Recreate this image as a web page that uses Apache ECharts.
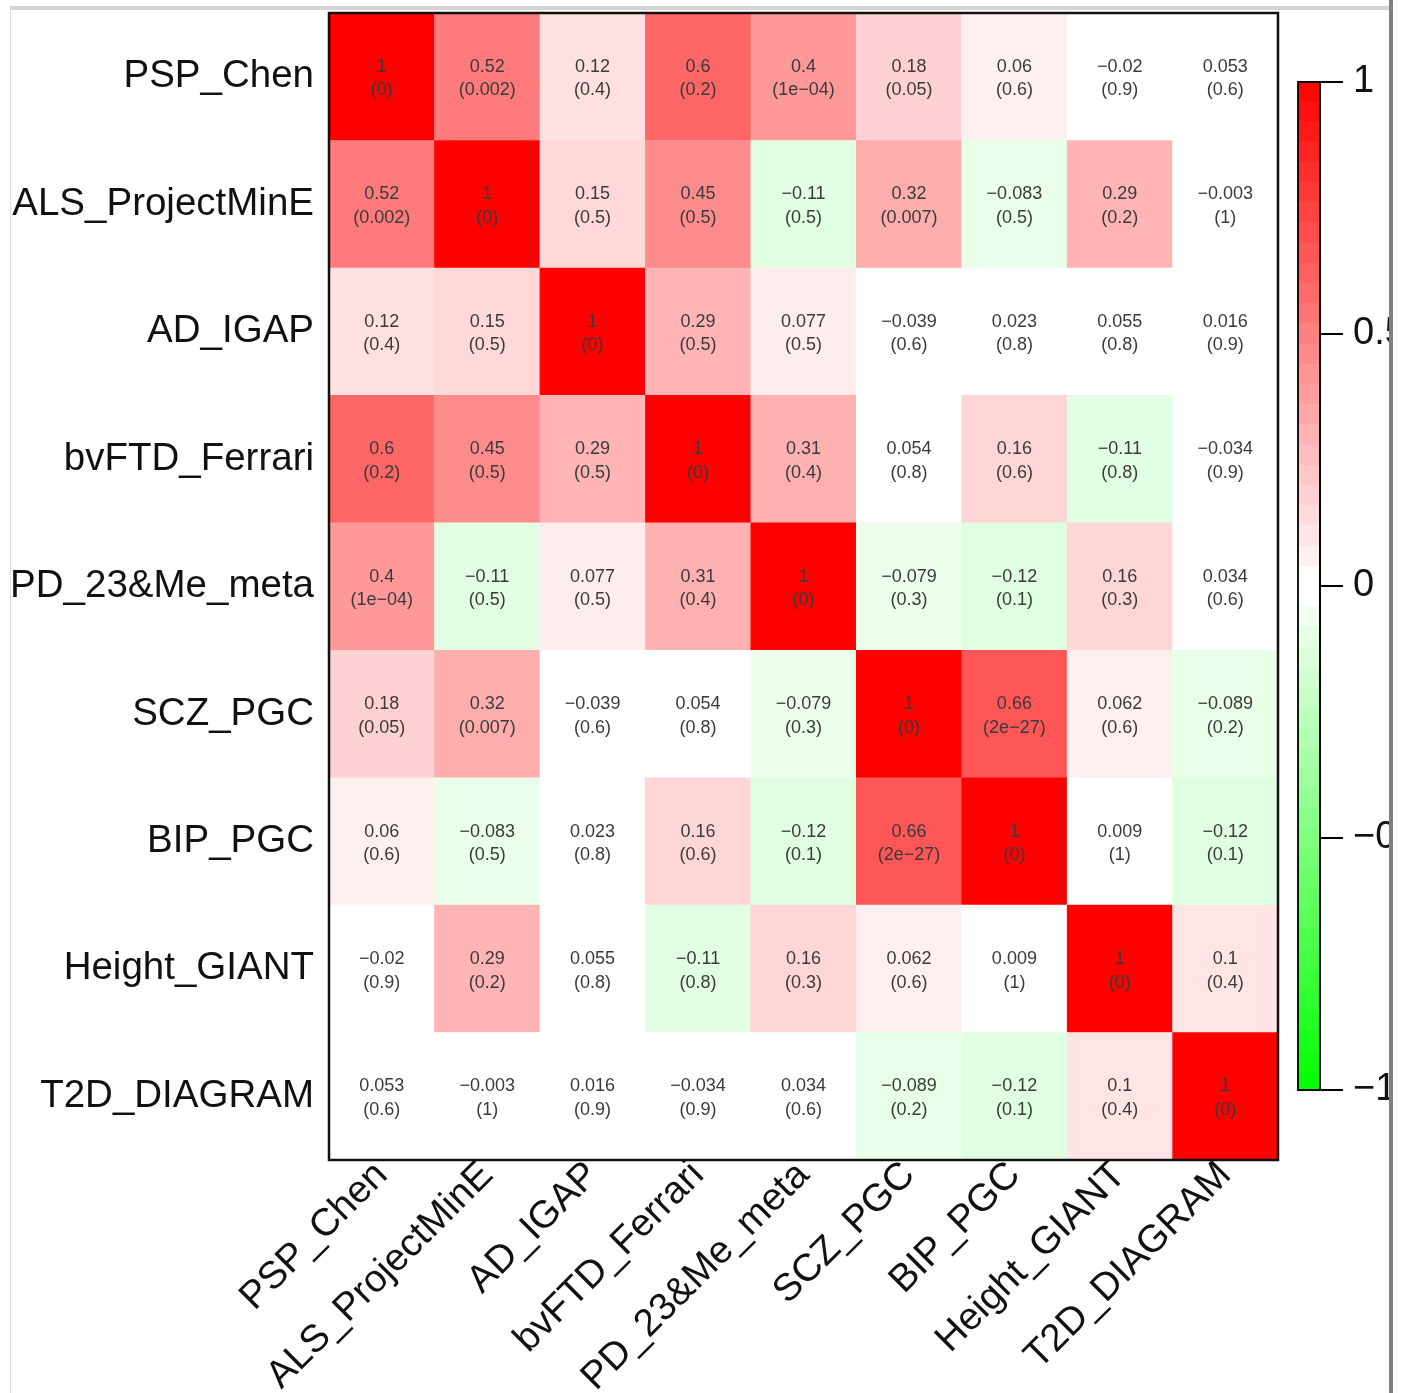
<!DOCTYPE html>
<html>
<head>
<meta charset="utf-8">
<script src="https://cdn.jsdelivr.net/npm/echarts@6/dist/echarts.min.js"></script>
<style>
html,body{margin:0;padding:0;background:#fff;}
#chart{width:1403px;height:1393px;}
</style>
</head>
<body>
<div id="chart"></div>
<script>
// ---------- DATA ----------
var categories = ['PSP_Chen','ALS_ProjectMinE','AD_IGAP','bvFTD_Ferrari','PD_23&Me_meta','SCZ_PGC','BIP_PGC','Height_GIANT','T2D_DIAGRAM'];

var corrPSP    = [1, 0.52, 0.12, 0.6, 0.4, 0.18, 0.06, -0.02, 0.053];
var corrALS    = [0.52, 1, 0.15, 0.45, -0.11, 0.32, -0.083, 0.29, -0.003];
var corrAD     = [0.12, 0.15, 1, 0.29, 0.077, -0.039, 0.023, 0.055, 0.016];
var corrFTD    = [0.6, 0.45, 0.29, 1, 0.31, 0.054, 0.16, -0.11, -0.034];
var corrPD     = [0.4, -0.11, 0.077, 0.31, 1, -0.079, -0.12, 0.16, 0.034];
var corrSCZ    = [0.18, 0.32, -0.039, 0.054, -0.079, 1, 0.66, 0.062, -0.089];
var corrBIP    = [0.06, -0.083, 0.023, 0.16, -0.12, 0.66, 1, 0.009, -0.12];
var corrHeight = [-0.02, 0.29, 0.055, -0.11, 0.16, 0.062, 0.009, 1, 0.1];
var corrT2D    = [0.053, -0.003, 0.016, -0.034, 0.034, -0.089, -0.12, 0.1, 1];

var pPSP    = ['0', '0.002', '0.4', '0.2', '1e-04', '0.05', '0.6', '0.9', '0.6'];
var pALS    = ['0.002', '0', '0.5', '0.5', '0.5', '0.007', '0.5', '0.2', '1'];
var pAD     = ['0.4', '0.5', '0', '0.5', '0.5', '0.6', '0.8', '0.8', '0.9'];
var pFTD    = ['0.2', '0.5', '0.5', '0', '0.4', '0.8', '0.6', '0.8', '0.9'];
var pPD     = ['1e-04', '0.5', '0.5', '0.4', '0', '0.3', '0.1', '0.3', '0.6'];
var pSCZ    = ['0.05', '0.007', '0.6', '0.8', '0.3', '0', '2e-27', '0.6', '0.2'];
var pBIP    = ['0.6', '0.5', '0.8', '0.6', '0.1', '2e-27', '0', '1', '0.1'];
var pHeight = ['0.9', '0.2', '0.8', '0.8', '0.3', '0.6', '1', '0', '0.4'];
var pT2D    = ['0.6', '1', '0.9', '0.9', '0.6', '0.2', '0.1', '0.4', '0'];

var colorbarTicks = [-1, -0.5, 0, 0.5, 1];

// ---------- BUILD ----------
var corrRows = [corrPSP, corrALS, corrAD, corrFTD, corrPD, corrSCZ, corrBIP, corrHeight, corrT2D];
var pRows = [pPSP, pALS, pAD, pFTD, pPD, pSCZ, pBIP, pHeight, pT2D];

var heatData = [];
for (var r = 0; r < categories.length; r++) {
  for (var c = 0; c < categories.length; c++) {
    heatData.push([c, r, corrRows[r][c], pRows[r][c]]);
  }
}
function fmt(s) { return String(s).replace(/-/g, '\u2212'); }

// green-white-red palette with a small white band around zero
function paletteColor(v) {
  var a = Math.abs(v);
  if (a <= 0.056) return 'rgb(255,255,255)';
  var k = Math.round(255 * (1 - Math.min(a, 1)));
  return v > 0 ? 'rgb(255,' + k + ',' + k + ')' : 'rgb(' + k + ',255,' + k + ')';
}
var paletteStops = [];
for (var i = 0; i <= 400; i++) paletteStops.push(paletteColor(-1 + i * 0.005));

// stepped colour bar (50 bins)
var barStops = [];
for (var b = 0; b < 50; b++) {
  var vTop = 1 - b * 0.04, center = vTop - 0.02;
  var col = paletteColor(center);
  barStops.push({offset: b / 50, color: col});
  barStops.push({offset: (b + 1) / 50, color: col});
}

var FONT = '"Liberation Sans", Arial, Helvetica, sans-serif';
var G = {left: 329, top: 13, width: 949, height: 1147};
var CB = {left: 1298, top: 82, width: 22, height: 1008};

var chart = echarts.init(document.getElementById('chart'), null, {renderer: 'canvas'});
var option = {
  animation: false,
  backgroundColor: '#ffffff',
  textStyle: {fontFamily: FONT},
  grid: [
    {left: G.left, top: G.top, width: G.width, height: G.height, containLabel: false, outerBoundsMode: 'none'},
    {left: CB.left, top: CB.top, width: CB.width, height: CB.height, containLabel: false, outerBoundsMode: 'none'}
  ],
  xAxis: [
    {
      type: 'category', gridIndex: 0, data: categories, position: 'bottom',
      axisLine: {show: false}, axisTick: {show: false}, splitLine: {show: false},
      axisLabel: {interval: 0, rotate: 45, fontSize: 38.5, color: '#111', fontFamily: FONT, margin: 9,
        hideOverlap: false}
    },
    {type: 'value', gridIndex: 1, min: 0, max: 1, show: false}
  ],
  yAxis: [
    {
      type: 'category', gridIndex: 0, data: categories, inverse: true,
      axisLine: {show: false}, axisTick: {show: false}, splitLine: {show: false},
      axisLabel: {interval: 0, fontSize: 38.5, color: '#111', fontFamily: FONT, margin: 15}
    },
    {
      type: 'value', gridIndex: 1, min: -1, max: 1, interval: 0.5, position: 'right', z: 50,
      axisLine: {show: true, onZero: false, lineStyle: {color: '#000', width: 2}},
      axisTick: {show: true, inside: false, length: 23, lineStyle: {color: '#000', width: 2}},
      splitLine: {show: false},
      axisLabel: {fontSize: 38, color: '#111', fontFamily: FONT, margin: 33,
        formatter: function (v) { return colorbarTicks.indexOf(v) >= 0 ? fmt(v) : ''; }}
    }
  ],
  visualMap: {
    show: false, type: 'continuous', min: -1, max: 1, dimension: 2, seriesIndex: 0,
    inRange: {color: paletteStops}
  },
  series: [
    {
      type: 'heatmap', xAxisIndex: 0, yAxisIndex: 0, data: heatData,
      itemStyle: {borderWidth: 0},
      label: {
        show: true, fontSize: 18, lineHeight: 23.5, color: '#3a3a3a', fontFamily: FONT, offset: [0, 2],
        formatter: function (p) { return fmt(p.data[2]) + '\n(' + fmt(p.data[3]) + ')'; }
      },
      emphasis: {disabled: true}
    }
  ],
  graphic: [
    // colorbar
    {type: 'rect', z: 1, shape: {x: CB.left, y: CB.top, width: CB.width, height: CB.height},
      style: {fill: new echarts.graphic.LinearGradient(0, 0, 0, 1, barStops),
        stroke: '#000', lineWidth: 1.8}},
    // heatmap frame
    {type: 'rect', z: 100, shape: {x: G.left, y: G.top, width: G.width, height: G.height},
      style: {fill: 'transparent', stroke: '#111', lineWidth: 2.5}},
    // screenshot frame
    {type: 'rect', z: 100, shape: {x: 10, y: 6, width: 1379, height: 4}, style: {fill: '#d4d4d4'}},
    {type: 'rect', z: 100, shape: {x: 10, y: 10, width: 1, height: 1383}, style: {fill: '#dedede'}},
    {type: 'rect', z: 100, shape: {x: 1389, y: 0, width: 4, height: 1393}, style: {fill: '#808080'}},
    {type: 'rect', z: 100, shape: {x: 1393, y: 0, width: 10, height: 1393}, style: {fill: '#ffffff'}}
  ]
};
chart.setOption(option);
</script>
</body>
</html>
